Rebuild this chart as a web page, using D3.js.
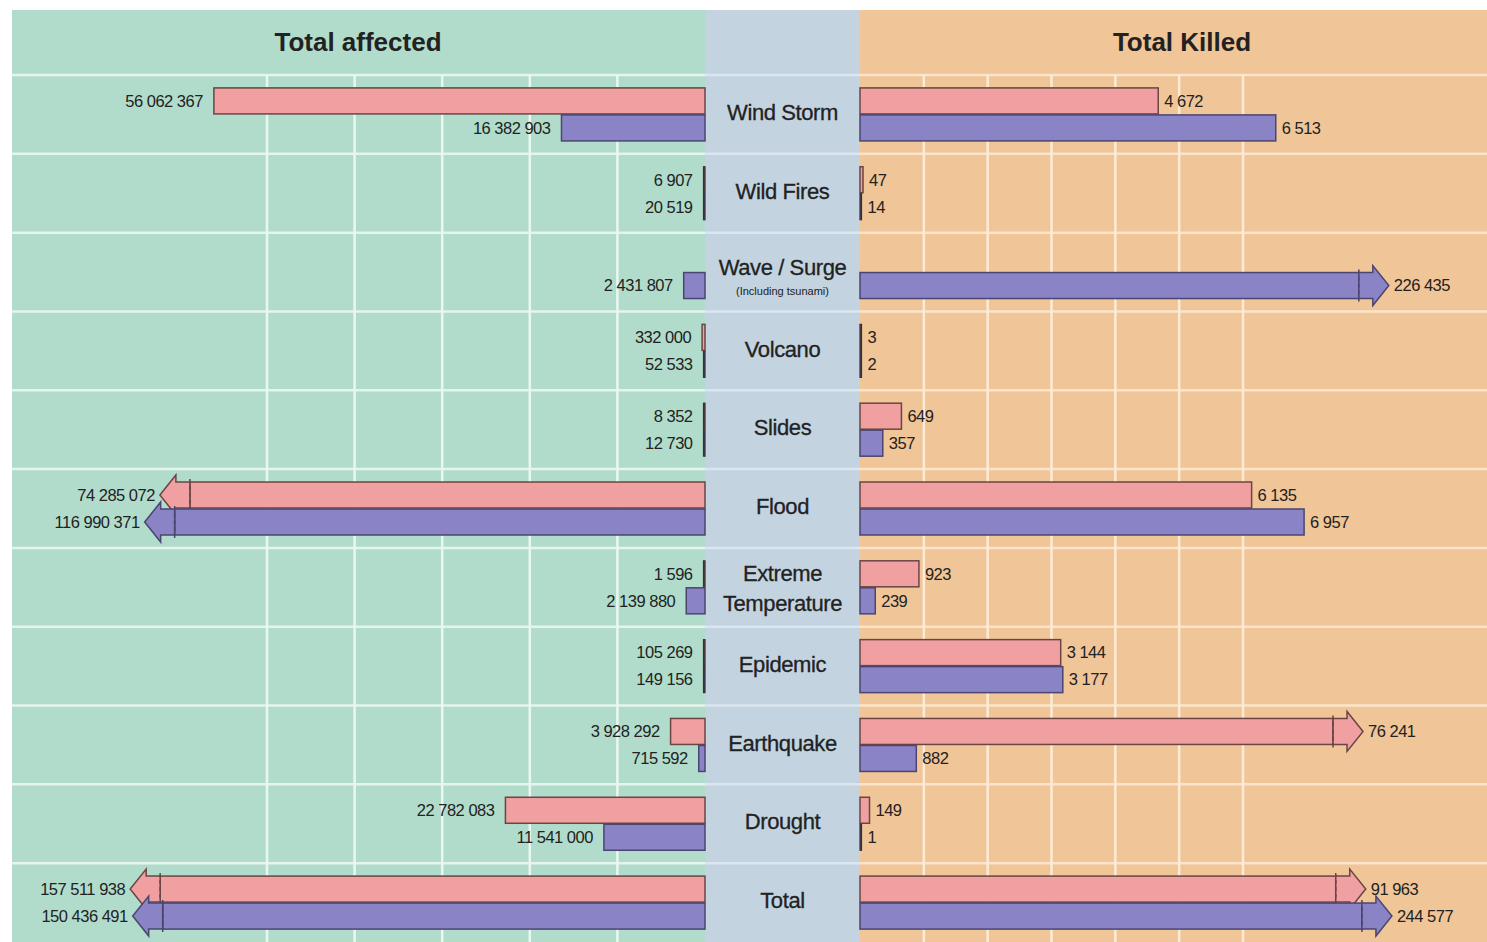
<!DOCTYPE html>
<html>
<head>
<meta charset="utf-8">
<script src="https://cdn.jsdelivr.net/npm/d3@7"></script>
<style>
  html, body { margin: 0; padding: 0; background: #ffffff; }
  svg { display: block; font-family: "Liberation Sans", Arial, Helvetica, sans-serif; }
</style>
</head>
<body>
<svg id="chart" width="1487" height="942"></svg>
<script>
// ---------- data ----------
const categories = ["Wind Storm", "Wild Fires", "Wave / Surge", "Volcano", "Slides", "Flood",
  "Extreme Temperature", "Epidemic", "Earthquake", "Drought", "Total"];
const categoryLines = [["Wind Storm"], ["Wild Fires"], ["Wave / Surge"], ["Volcano"], ["Slides"], ["Flood"],
  ["Extreme", "Temperature"], ["Epidemic"], ["Earthquake"], ["Drought"], ["Total"]];
const subNotes = ["", "", "(Including tsunami)", "", "", "", "", "", "", "", ""];
// pink series (2005) and blue series (2004)
const affectedPink = [56062367, 6907, null, 332000, 8352, 74285072, 1596, 105269, 3928292, 22782083, 157511938];
const affectedBlue = [16382903, 20519, 2431807, 52533, 12730, 116990371, 2139880, 149156, 715592, 11541000, 150436491];
const killedPink = [4672, 47, null, 3, 649, 6135, 923, 3144, 76241, 149, 91963];
const killedBlue = [6513, 14, 226435, 2, 357, 6957, 239, 3177, 882, 1, 244577];
const leftTicks = [10e6, 20e6, 30e6, 40e6, 50e6];
const rightTicks = [1000, 2000, 3000, 4000, 5000, 6000];
const panelTitles = ["Total affected", "Total Killed"];

// ---------- layout ----------
const W = 1487, H = 942;
const topY = 10, headerBottom = 75, leftEdge = 12;
const midL = 705, midR = 860;
const colors = {
  green: "#b1dccb", mid: "#c3d3e0", orange: "#f0c597",
  pink: "#f1a0a2", pinkStroke: "#6b4544",
  blue: "#8a83c5", blueStroke: "#4b4570",
  text: "#222222"
};

const svg = d3.select("#chart");

const y = d3.scaleBand().domain(categories).range([headerBottom, H]).paddingInner(0).paddingOuter(0);
const xL = d3.scaleLinear().domain([0, 50e6]).range([midL, 267]);
const xR = d3.scaleLinear().domain([0, 6000]).range([midR, 1243]);
// compressed scales for broken (overflow) bars
const leftBreakAt = 60e6, rightBreakAt = 8000;
const xLbreak = d3.scaleLinear().domain([74e6, 158e6]).range([190, 160]);
const xRbreak = d3.scaleLinear().domain([76000, 245000]).range([1333, 1362]);

const fmt = v => d3.format(",")(v).replace(/,/g, " ");

// backgrounds
svg.append("rect").attr("x", leftEdge).attr("y", topY).attr("width", midL - leftEdge).attr("height", H - topY).attr("fill", colors.green);
svg.append("rect").attr("x", midL).attr("y", topY).attr("width", midR - midL).attr("height", H - topY).attr("fill", colors.mid);
svg.append("rect").attr("x", midR).attr("y", topY).attr("width", W - midR).attr("height", H - topY).attr("fill", colors.orange);

// horizontal grid lines at row boundaries
const rowLines = categories.map(c => y(c));
svg.append("g").selectAll("line").data(rowLines).join("line")
  .attr("x1", leftEdge).attr("x2", midL).attr("y1", d => d).attr("y2", d => d)
  .attr("stroke", "#e6f4ee").attr("stroke-width", 2.5);
svg.append("g").selectAll("line").data(rowLines).join("line")
  .attr("x1", midL).attr("x2", midR).attr("y1", d => d).attr("y2", d => d)
  .attr("stroke", "#dbe6ef").attr("stroke-width", 2.5);
svg.append("g").selectAll("line").data(rowLines).join("line")
  .attr("x1", midR).attr("x2", W).attr("y1", d => d).attr("y2", d => d)
  .attr("stroke", "#fbe4cb").attr("stroke-width", 2.5);

// vertical grid lines
svg.append("g").selectAll("line").data(leftTicks).join("line")
  .attr("x1", d => xL(d)).attr("x2", d => xL(d)).attr("y1", headerBottom).attr("y2", H)
  .attr("stroke", "#eaf7f1").attr("stroke-width", 2.5);
svg.append("g").selectAll("line").data(rightTicks).join("line")
  .attr("x1", d => xR(d)).attr("x2", d => xR(d)).attr("y1", headerBottom).attr("y2", H)
  .attr("stroke", "#fdebd6").attr("stroke-width", 2.5);

// panel titles
svg.append("text").attr("x", 358).attr("y", 51).attr("text-anchor", "middle")
  .attr("font-size", 26).attr("font-weight", "bold").attr("fill", colors.text).text(panelTitles[0]);
svg.append("text").attr("x", 1182).attr("y", 51).attr("text-anchor", "middle")
  .attr("font-size", 26).attr("font-weight", "bold").attr("fill", colors.text).text(panelTitles[1]);

// bars
const barH = 26;
function barY(cat, series) {
  const c = y(cat) + y.bandwidth() / 2;
  return series === 0 ? c - barH - 0.5 : c + 0.5;
}

function drawSide(values, series, side) {
  const g = svg.append("g");
  const fill = series === 0 ? colors.pink : colors.blue;
  const stroke = series === 0 ? colors.pinkStroke : colors.blueStroke;
  values.forEach((v, i) => {
    if (v === null) return;
    const cat = categories[i];
    const yt = barY(cat, series);
    const yc = yt + barH / 2;
    const base = side === "L" ? midL : midR;
    const dir = side === "L" ? -1 : 1;
    const broken = side === "L" ? v > leftBreakAt : v > rightBreakAt;
    let end = broken ? (side === "L" ? xLbreak(v) : xRbreak(v)) : (side === "L" ? xL(v) : xR(v));
    let w = Math.abs(end - base);
    const tiny = w < 2;
    if (tiny) { w = 1.5; end = base + dir * w; }
    g.append("rect")
      .attr("x", Math.min(base, end)).attr("y", yt)
      .attr("width", w).attr("height", barH)
      .attr("fill", tiny ? stroke : fill).attr("stroke", tiny ? "#333" : stroke)
      .attr("stroke-width", tiny ? 1.2 : 1.5);
    let labelX = end + dir * (side === "L" ? 11 : 6);
    if (broken) {
      const s = 14, h = 16, HH = barH / 2 + 7;
      const pts = [
        [end, yt], [end + dir * s, yt], [end + dir * s, yc - HH], [end + dir * (s + h), yc],
        [end + dir * s, yc + HH], [end + dir * s, yt + barH], [end, yt + barH]
      ];
      g.append("path").attr("d", d3.line()(pts) + "Z")
        .attr("fill", fill).attr("stroke", stroke).attr("stroke-width", 1.5).attr("stroke-linejoin", "miter");
      g.append("line").attr("x1", end).attr("x2", end).attr("y1", yt - 3).attr("y2", yt + barH + 3)
        .attr("stroke", stroke).attr("stroke-width", 1.5).attr("stroke-dasharray", "4,3");
      labelX = end + dir * (s + h + 5);
    }
    g.append("text")
      .attr("x", labelX).attr("y", yc).attr("dy", "0.35em")
      .attr("text-anchor", side === "L" ? "end" : "start")
      .attr("font-size", 16.5).attr("letter-spacing", -0.5).attr("fill", colors.text)
      .text(fmt(v));
  });
}
drawSide(affectedPink, 0, "L");
drawSide(affectedBlue, 1, "L");
drawSide(killedPink, 0, "R");
drawSide(killedBlue, 1, "R");

// category labels
const cx = (midL + midR) / 2;
categories.forEach((cat, i) => {
  const c = y(cat) + y.bandwidth() / 2;
  const lines = categoryLines[i];
  const sub = subNotes[i];
  const t = svg.append("text").attr("text-anchor", "middle").attr("font-size", 22)
    .attr("fill", colors.text).attr("stroke", colors.text).attr("stroke-width", 0.3)
    .attr("letter-spacing", -0.4);
  if (lines.length === 2) {
    t.append("tspan").attr("x", cx).attr("y", c - 14).attr("dy", "0.35em").text(lines[0]);
    t.append("tspan").attr("x", cx).attr("y", c + 16).attr("dy", "0.35em").text(lines[1]);
  } else if (sub) {
    t.append("tspan").attr("x", cx).attr("y", c - 5).attr("dy", "0.35em").text(lines[0]);
    svg.append("text").attr("x", cx).attr("y", c + 19).attr("dy", "0.35em")
      .attr("text-anchor", "middle").attr("font-size", 11).attr("fill", colors.text).text(sub);
  } else {
    t.append("tspan").attr("x", cx).attr("y", c - 2).attr("dy", "0.35em").text(lines[0]);
  }
});
</script>
</body>
</html>
